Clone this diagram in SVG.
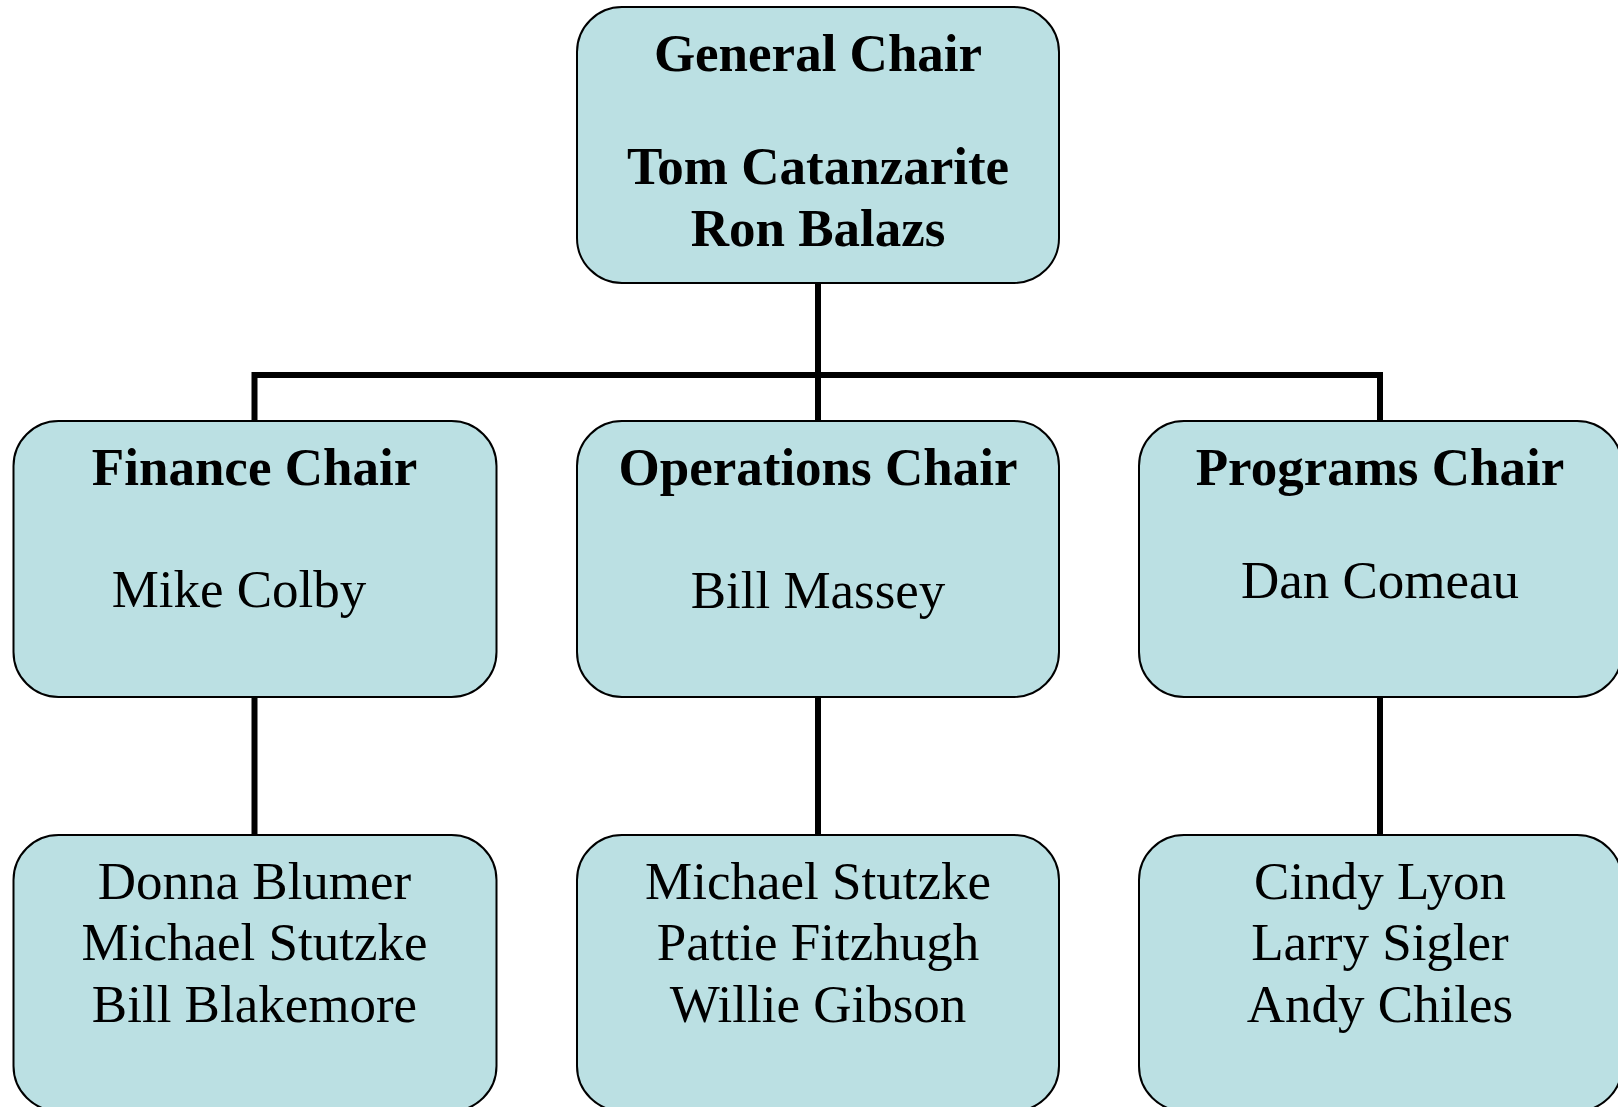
<svg xmlns="http://www.w3.org/2000/svg" width="1618" height="1107" viewBox="0 0 1618 1107">
<style>
.box{fill:#BBE0E3;stroke:#000;stroke-width:2}
.t{font-family:"Liberation Serif","Times New Roman",serif;font-size:53px;fill:#000;text-anchor:middle}
.b{font-weight:bold}
.c{fill:none;stroke:#000;stroke-width:6}
</style>
<rect width="1618" height="1107" fill="#fff"/>
<g id="connectors">
<path class="c" d="M818 283V375M254.5 421V375H1380V421M818 375V421"/>
<path class="c" d="M254.5 697V835M818 697V835M1380 697V835"/>
</g>
<g id="general">
<rect class="box" x="577" y="7" width="482" height="276" rx="45"/>
<text class="t b" x="818" y="71">General Chair</text>
<text class="t b" x="818" y="184">Tom Catanzarite</text>
<text class="t b" x="818" y="246">Ron Balazs</text>
</g>
<g id="finance">
<rect class="box" x="13.5" y="421" width="483" height="276" rx="45"/>
<text class="t b" x="254.5" y="485">Finance Chair</text>
<text class="t" x="239" y="607">Mike Colby</text>
</g>
<g id="operations">
<rect class="box" x="577" y="421" width="482" height="276" rx="45"/>
<text class="t b" x="818" y="485">Operations Chair</text>
<text class="t" x="818" y="608">Bill Massey</text>
</g>
<g id="programs">
<rect class="box" x="1139" y="421" width="483" height="276" rx="45"/>
<text class="t b" x="1380" y="485">Programs Chair</text>
<text class="t" x="1380" y="598">Dan Comeau</text>
</g>
<g id="finance-team">
<rect class="box" x="13.5" y="835" width="483" height="276" rx="45"/>
<text class="t" x="254.5" y="899">Donna Blumer</text>
<text class="t" x="254.5" y="960">Michael Stutzke</text>
<text class="t" x="254.5" y="1022">Bill Blakemore</text>
</g>
<g id="operations-team">
<rect class="box" x="577" y="835" width="482" height="276" rx="45"/>
<text class="t" x="818" y="899">Michael Stutzke</text>
<text class="t" x="818" y="960">Pattie Fitzhugh</text>
<text class="t" x="818" y="1022">Willie Gibson</text>
</g>
<g id="programs-team">
<rect class="box" x="1139" y="835" width="483" height="276" rx="45"/>
<text class="t" x="1380" y="899">Cindy Lyon</text>
<text class="t" x="1380" y="960">Larry Sigler</text>
<text class="t" x="1380" y="1022">Andy Chiles</text>
</g>
</svg>
